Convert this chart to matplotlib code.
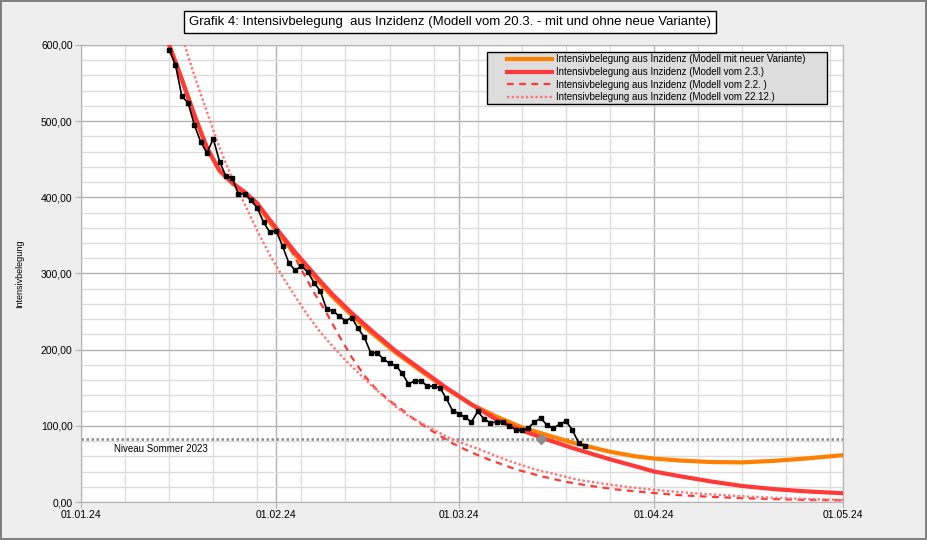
import numpy as np
import pandas as pd
import matplotlib
matplotlib.use("Agg")
import matplotlib.pyplot as plt
import matplotlib.dates as mdates
from matplotlib.patches import Rectangle
from matplotlib.ticker import FuncFormatter, MultipleLocator, FixedLocator

plt.rcParams['font.family'] = ['Liberation Sans', 'DejaVu Sans']

start = pd.Timestamp('2024-01-01')

# observed ICU occupancy (daily, from 15.01.)
obs_start = '2024-01-15'
obs_values = [594, 574, 533, 524, 495, 473, 458, 477, 447, 428, 426, 404, 405, 396, 386,
              367, 354, 356, 336, 314, 304, 310, 302, 288, 277, 253, 251, 244, 238, 242,
              228, 216, 196, 196, 188, 182, 179, 169, 155, 159, 159, 152, 152, 150, 136,
              120, 116, 111, 105, 119, 109, 104, 105, 105, 100, 95, 94, 97, 105, 110,
              101, 97, 102, 106, 95, 78, 73]

# model curves: days since 01.01.24 and values
variant_days = [13, 14, 16, 18, 20, 22, 24, 26, 28, 30, 32, 34, 36, 38, 40, 43, 46, 50, 54, 58,
                62, 63, 66, 70, 74, 78, 80, 84, 88, 91, 95, 100, 105, 110, 115, 121]
variant_vals = [625, 600, 555, 508, 465, 435, 419, 405, 390, 367, 346, 325, 306, 287, 269, 245,
                223, 196, 172, 149, 128, 124, 112, 98, 88, 78, 74, 66, 60, 57, 54.5, 52.5,
                52, 54, 57, 61.5]

m0203_days = [13, 14, 16, 18, 20, 22, 24, 26, 28, 30, 32, 34, 36, 38, 40, 43, 46, 50, 54, 58,
              62, 63, 66, 70, 74, 78, 80, 84, 88, 91, 95, 100, 105, 110, 115, 121]
m0203_vals = [625, 600, 555, 508, 465, 435, 419, 407, 392, 370, 349, 328, 309, 290, 272, 248,
              226, 198, 174, 150, 128, 123, 108, 94, 82, 71, 66, 56, 47, 40, 34, 27,
              21, 17, 14, 11.5]

m0202_days = [31, 33, 35, 37, 39, 41, 43, 45, 47, 49, 51, 53, 55, 57, 59, 62, 65, 69, 73, 77,
              81, 85, 90, 95, 100, 105, 110, 115, 121]
m0202_vals = [358, 336, 305, 275, 248, 218, 190, 166, 147, 133, 121, 108, 97, 87, 77, 65, 55,
              43, 34, 26.5, 21, 16.5, 12.5, 9, 6.8, 5, 3.8, 2.8, 2.2]

m2212_days = [14, 16, 18, 20, 22, 24, 26, 28, 30, 32, 34, 36, 38, 40, 42, 44, 46, 48, 50, 52,
              54, 56, 58, 60, 63, 66, 69, 72, 75, 79, 83, 87, 91, 95, 100, 105, 110, 115, 121]
m2212_vals = [680, 612, 560, 512, 465, 425, 391, 356, 324, 296, 270, 245, 223, 204, 186, 170,
              154, 139, 125, 113, 104, 95, 86, 79, 70, 60, 51, 43, 37, 29, 24, 19.5, 16, 13,
              10, 7.5, 5.5, 4, 2.8]

summer_level = 83
marker_day = 73

def to_dates(days):
    return [start + pd.Timedelta(days=d) for d in days]

fig = plt.figure(figsize=(9.27, 5.40), dpi=100)
fig.patch.set_facecolor('#eeeeee')
fig.patch.set_edgecolor('#808080')
fig.patch.set_linewidth(1.5)
ax = fig.add_axes([81/927, 38/540, 762/927, 457/540])
ax.set_facecolor('white')

ax.plot(to_dates(variant_days), variant_vals, color='#ff8000', lw=3,
        label='Intensivbelegung aus Inzidenz (Modell mit neuer Variante)', zorder=3)
ax.plot(to_dates(m0203_days), m0203_vals, color='#ff3838', lw=3,
        label='Intensivbelegung aus Inzidenz (Modell vom 2.3.)', zorder=4)
ax.plot(to_dates(m0202_days), m0202_vals, color='#ff3838', lw=1.6, ls=(0, (3, 2.5)),
        label='Intensivbelegung aus Inzidenz (Modell vom 2.2. )', zorder=3)
ax.plot(to_dates(m2212_days), m2212_vals, color='#ff7575', lw=1.7, ls=(0, (1, 1)),
        label='Intensivbelegung aus Inzidenz (Modell vom 22.12.)', zorder=3)

ax.axhline(summer_level, color='#8c8c8c', lw=1.8, ls=(0, (1, 1)), zorder=2)
ax.plot([start + pd.Timedelta(days=marker_day)], [summer_level], marker='D', ms=5,
        color='#8c8c8c', zorder=5)
ax.text(start + pd.Timedelta(days=5.3), 69.5, 'Niveau Sommer 2023', fontsize=7,
        va='center', ha='left')

obs_dates = pd.date_range(obs_start, periods=len(obs_values), freq='D')
ax.plot(obs_dates, obs_values, color='black', lw=1.2, marker='s', ms=2.5, zorder=6)

ax.set_xlim(start, pd.Timestamp('2024-05-01'))
ax.set_ylim(0, 600)

ax.xaxis.set_major_locator(mdates.MonthLocator())
ax.xaxis.set_major_formatter(mdates.DateFormatter('%d.%m.%y'))
weeks = pd.date_range('2024-01-01', '2024-05-01', freq='7D')
ax.xaxis.set_minor_locator(FixedLocator(mdates.date2num(weeks)))
ax.yaxis.set_major_locator(MultipleLocator(100))
ax.yaxis.set_minor_locator(MultipleLocator(20))
ax.yaxis.set_major_formatter(FuncFormatter(lambda v, p: f'{v:.2f}'.replace('.', ',')))

ax.grid(which='major', color='#b3b3b3', lw=1)
ax.grid(which='minor', color='#dddddd', lw=1)
ax.set_axisbelow(True)
ax.tick_params(which='major', length=4, color='#b3b3b3', labelsize=7.5, pad=2)
ax.tick_params(which='minor', length=0)
for s in ax.spines.values():
    s.set_color('#b3b3b3')

ax.set_ylabel('Intensivbelegung', fontsize=6.5)
ax.yaxis.set_label_coords(-0.074, 0.5)

# legend box (drawn separately to get the wide side margins)
ax.add_patch(Rectangle((487/927, 1 - 104/540), 340/927, 52/540, transform=fig.transFigure,
                       facecolor='#dddddd', edgecolor='black', lw=1, zorder=7, clip_on=False))
leg = ax.legend(loc='upper left', bbox_to_anchor=(507/927, 1 - 54.5/540),
                bbox_transform=fig.transFigure, borderaxespad=0, borderpad=0, fontsize=7,
                handlelength=4.6, labelspacing=0.26, frameon=False, handletextpad=0.4)
leg.set_zorder(8)

fig.text(450/927, 1 - 22/540,
         'Grafik 4: Intensivbelegung  aus Inzidenz (Modell vom 20.3. - mit und ohne neue Variante)',
         ha='center', va='center', fontsize=9.5,
         bbox=dict(boxstyle='square,pad=0.35', fc='white', ec='black', lw=1))

plt.savefig('out.png', dpi=100, facecolor=fig.get_facecolor(), edgecolor=fig.get_edgecolor())
